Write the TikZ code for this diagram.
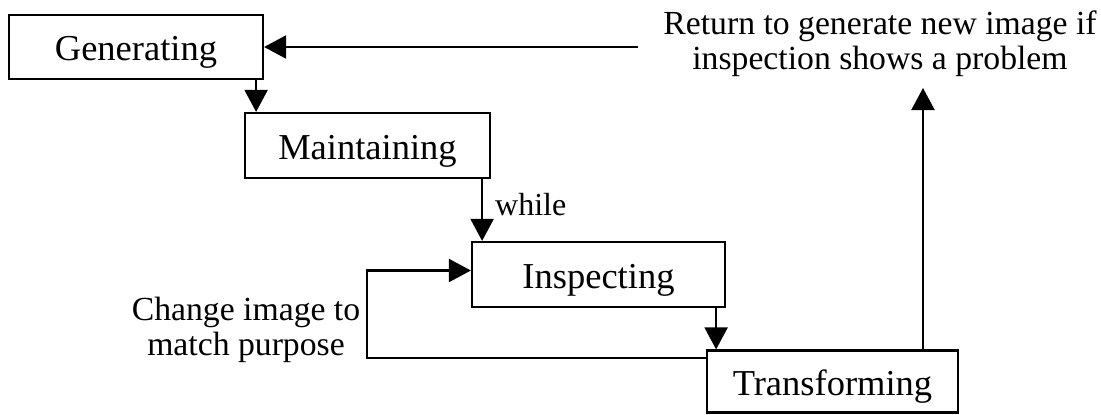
\documentclass[tikz,border=0pt]{standalone}
\usepackage{fontspec}
\setmainfont{Liberation Serif}
\usetikzlibrary{arrows.meta}
\begin{document}
\begin{tikzpicture}[x=1pt,y=-1pt,
  stage/.style={draw, line width=2.2pt, minimum height=64pt, inner sep=0pt,
    font=\fontsize{36.5}{40}\selectfont, text height=28pt, text depth=1pt},
  arr/.style={line width=2.2pt, -{Triangle[length=22pt,width=23pt]}},
  lbl/.style={font=\fontsize{33.7}{35}\selectfont, align=center, inner sep=0pt}]
\useasboundingbox (0,0) rectangle (1101,415);
\node[stage, minimum width=254pt] (gen) at (136,47) {Generating};
\node[stage, minimum width=245pt, minimum height=65pt] (main) at (367.5,145.5) {Maintaining};
\node[stage, minimum width=253pt, minimum height=65pt] (insp) at (598.5,274.5) {Inspecting};
\node[stage, minimum width=251pt, minimum height=62pt] (trans) at (832.5,381.5) {Transforming};
\node[lbl] (ret) at (880,44) {Return to generate new image if\\inspection shows a problem};
\node[lbl] (chg) at (246,330) {Change image to\\match purpose};
\node[anchor=base west, inner sep=0pt, font=\fontsize{32}{34}\selectfont] (while) at (495,215) {while};
\coordinate (lp) at (367,358);
\coordinate (up) at (923,88);
\coordinate (rs) at (638,47);
\draw[arr] ([xshift=-8pt]gen.south east) -- ([xshift=-8pt]gen.south east |- main.north);
\draw[arr] ([xshift=-9pt]main.south east) -- ([xshift=-9pt]main.south east |- insp.north);
\draw[arr] ([xshift=-10pt]insp.south east) -- ([xshift=-10pt]insp.south east |- trans.north);
\draw[arr] (trans.west |- lp) -- (lp) |- ([yshift=4pt]insp.west);
\draw[arr] (trans.north -| up) -- (up);
\draw[arr] (rs) -- (gen.east);
\end{tikzpicture}
\end{document}
